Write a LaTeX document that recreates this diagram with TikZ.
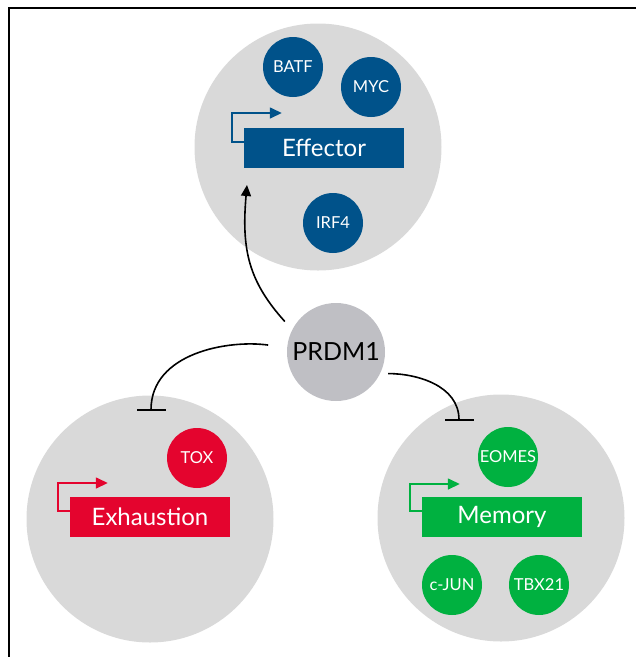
\documentclass[tikz,border=0pt]{standalone}
\usepackage{fontspec}
\setmainfont{Lato}
\usepackage{tikz}
\usetikzlibrary{arrows.meta}
\usetikzlibrary{positioning}

\definecolor{effblue}{RGB}{0,82,138}
\definecolor{exred}{RGB}{228,4,46}
\definecolor{memgreen}{RGB}{0,177,64}
\definecolor{cellgrey}{RGB}{217,217,217}
\definecolor{hubgrey}{RGB}{191,191,196}

\begin{document}
\begin{tikzpicture}[x=1pt,y=-1pt,
		cell/.style={circle,fill=cellgrey,minimum size=247pt,inner sep=0pt},
		tf/.style={circle,fill=#1,minimum size=60pt,inner sep=0pt,text=white,font=\fontsize{16.5}{19}\selectfont},
		gene/.style={fill=#1,minimum width=160pt,minimum height=40pt,inner sep=0pt,text=white,font=\fontsize{24}{28}\selectfont},
		promoter/.style={draw=#1,line width=1.5pt,-{Triangle[length=12pt,width=11pt]}},
		act/.style={line width=1.6pt,-{Triangle[length=11pt,width=10pt]}},
		inh/.style={line width=1.6pt,-{Bar[width=29pt]}}]
					\useasboundingbox (0,0) rectangle (636,657);

					%% frame
					\draw[line width=2pt] (9,657) -- (9,8) -- (636,8);

					%% cells
					\node[cell] (effcell) at (318,147) {};
					\node[cell] (excell) at (150,519) {};
					\node[cell] (memcell) at (501,518) {};

					%% Effector
					\node[tf=effblue] (batf) at (293,67) {BATF};
					\node[tf=effblue] (myc) at (371,87) {MYC};
					\node[tf=effblue] (irf) at (333,223) {IRF4};
					\node[gene=effblue] (eff) at (324,148) {Effector};
					\draw[promoter=effblue] ([yshift=6pt]eff.west) -- ++(-12,0) -- ++(0,-29) -- ++(50,0);

					%% Exhaustion
					\node[tf=exred] (tox) at (197,458) {TOX};
					\node[gene=exred] (exh) at (150,517) {Exhaustion};
					\draw[promoter=exred] ([yshift=6pt]exh.west) -- ++(-12,0) -- ++(0,-28) -- ++(50,0);

					%% Memory
					\node[tf=memgreen] (eomes) at (508,457) {EOMES};
					\node[tf=memgreen] (cjun) at (452,585) {c-JUN};
					\node[tf=memgreen] (tbx) at (539,585) {TBX21};
					\node[gene=memgreen] (mem) at (502,517) {Memory};
					\draw[promoter=memgreen] ([yshift=6pt]mem.west) -- ++(-12,0) -- ++(0,-27) -- ++(50,0);

					%% PRDM1
					\node[circle,fill=hubgrey,minimum size=98pt,inner sep=0pt,font=\fontsize{25}{29}\selectfont] (hub) at (336,352) {PRDM1};

					%% links
					\coordinate (effin) at (247,185);
					\coordinate (exin) at (151,411);
					\coordinate (memin) at (459,421);
					\draw[act,shorten <=11pt] (hub.153) to[out=132,in=-95,looseness=1.1] (effin);
					\draw[inh,shorten <=19pt] (hub.175) to[out=172,in=90] (exin);
					\draw[inh,shorten <=8pt] (hub.-26) to[out=0,in=90] (memin);
				\end{tikzpicture}
\end{document}
